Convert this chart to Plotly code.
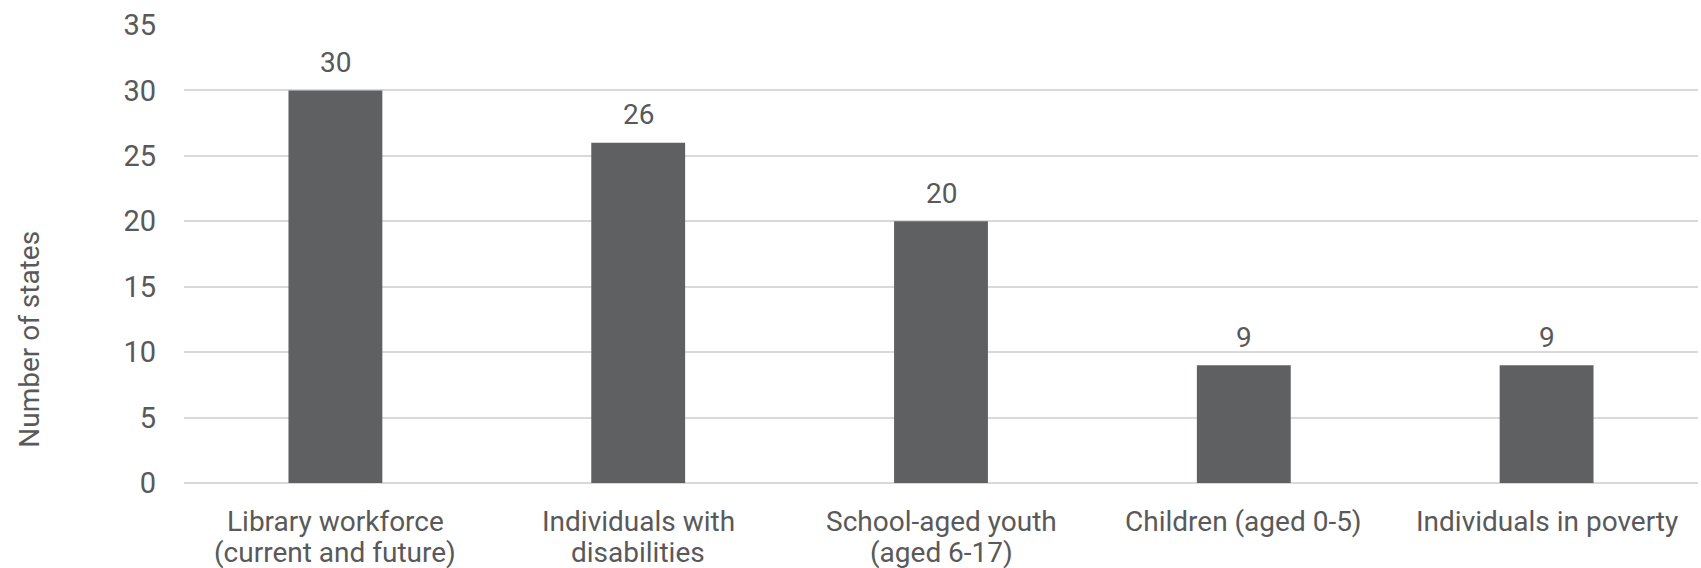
import plotly.graph_objects as go

# Focus groups and the number of states targeting each
categories = [
    "Library workforce<br>(current and future)",
    "Individuals with<br>disabilities",
    "School-aged youth<br>(aged 6-17)",
    "Children (aged 0-5)",
    "Individuals in poverty",
]
states = [30, 26, 20, 9, 9]
y_ticks = [0, 5, 10, 15, 20, 25, 30, 35]

FONT = "Roboto"
TEXT = "#595959"
BAR = "#5f6062"
GRID = "#d9d9d9"
LINE_STEP = 31  # tighter line spacing for the category labels

fig = go.Figure(
    go.Bar(
        x=categories,
        y=states,
        marker=dict(color=BAR, line=dict(width=0)),
        hoverinfo="skip",
    )
)

# Value labels above each bar
for cat, val in zip(categories, states):
    fig.add_annotation(
        x=cat, y=val, text=str(val), showarrow=False,
        yshift=28, yanchor="middle",
        font=dict(family=FONT, size=28, color=TEXT),
    )

# Category labels under the axis, one annotation per line
for cat in categories:
    for i, line in enumerate(cat.split("<br>")):
        fig.add_annotation(
            x=cat, y=0, text=line, showarrow=False,
            yshift=-38 - i * LINE_STEP, yanchor="middle",
            font=dict(family=FONT, size=28, color=TEXT),
        )

# Axis title
fig.add_annotation(
    xref="paper", yref="paper", x=-0.102, y=0.314,
    text="Number of states", textangle=-90, showarrow=False,
    xanchor="center", yanchor="middle",
    font=dict(family=FONT, size=28, color=TEXT),
)

fig.update_layout(
    width=1701, height=568,
    margin=dict(l=184, r=3, t=25, b=85),
    paper_bgcolor="white", plot_bgcolor="white",
    bargap=0.69,
    showlegend=False,
    font=dict(family=FONT, color=TEXT),
)
fig.update_xaxes(
    showgrid=False, showline=False, zeroline=False,
    showticklabels=False,
)
fig.update_yaxes(
    range=[0, 35], tickvals=y_ticks,
    showgrid=True, gridcolor=GRID, gridwidth=2,
    zeroline=True, zerolinecolor=GRID, zerolinewidth=2,
    showline=False,
    tickfont=dict(family=FONT, size=29, color=TEXT),
    ticklabelstandoff=27,
)

fig.write_html("out.html")
